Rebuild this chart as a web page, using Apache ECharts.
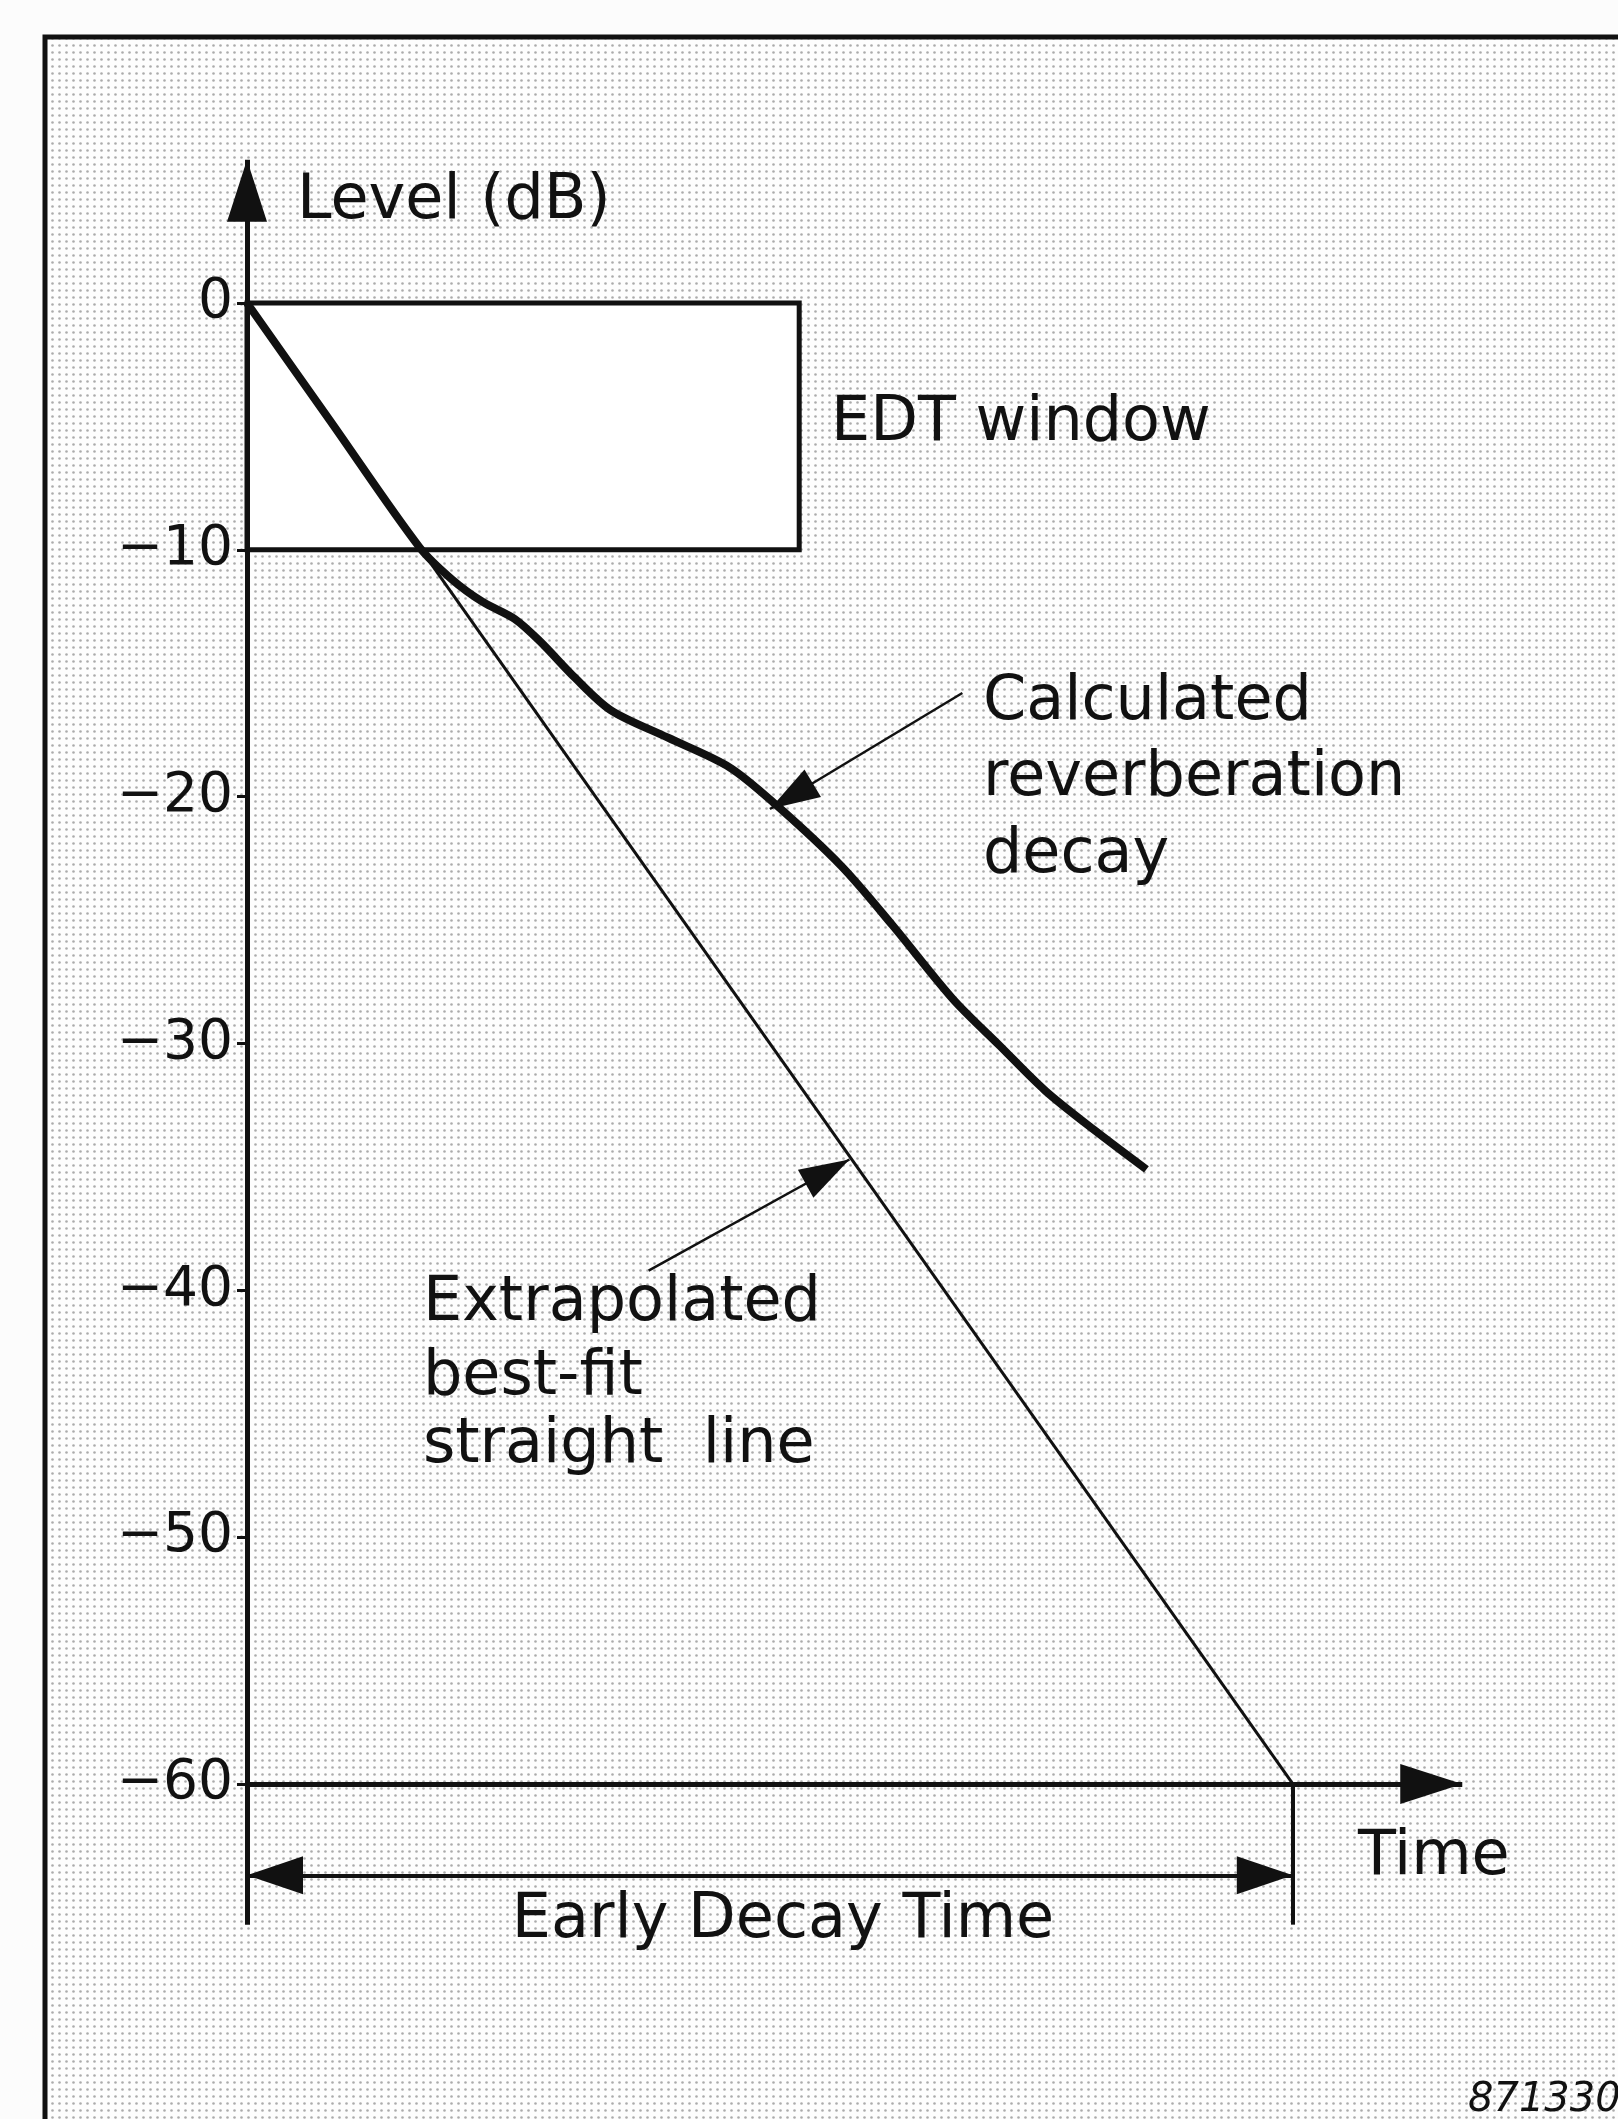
<!DOCTYPE html>
<html><head><meta charset="utf-8">
<style>html,body{margin:0;padding:0;background:#fcfcfc}#c{width:1618px;height:2119px}</style>
<script src="https://cdn.jsdelivr.net/npm/echarts@6/dist/echarts.min.js"></script>
</head><body><div id="c"></div>
<script>
// ---- data (time in arbitrary units, EDT = 100; level in dB) ----
const levelTicks = [0, -10, -20, -30, -40, -50, -60];
const straightTime = [0, 100];
const straightLevel = [0, -60];
const decayTime  = [0, 8, 16.5, 19.6, 22.5, 25.6, 28, 31.4, 34.8, 40.2, 46.1, 50.5, 56.8, 61.7, 67.5, 72, 76.3, 81, 86];
const decayLevel = [0, -4.8, -9.9, -11.2, -12.1, -12.8, -13.7, -15.2, -16.5, -17.6, -18.8, -20.3, -22.8, -25.2, -28.2, -30.1, -31.9, -33.5, -35.1];
const edtWindowTime = [0, 52.8];
const edtWindowLevel = [0, -10];
const levelAxisTop = 5.8, levelAxisBottom = -65.7;
const timeAxisEnd = 116.2;
const edtTime = 100;
const edtArrowLevel = -63.7;
const calcPointerTime = [68.4, 50.0], calcPointerLevel = [-15.8, -20.5];
const fitPointerTime = [38.4, 57.6], fitPointerLevel = [-39.2, -34.7];

const FONT = '"DejaVu Sans", sans-serif';
const INK = '#111';

// halftone-like background pattern
const pc = document.createElement('canvas');
pc.width = 7; pc.height = 7;
const pctx = pc.getContext('2d');
pctx.fillStyle = '#fdfdfd'; pctx.fillRect(0, 0, 7, 7);
pctx.fillStyle = '#ababab'; pctx.beginPath(); pctx.arc(3.5, 3.5, 1.3, 0, Math.PI * 2); pctx.fill();

const chart = echarts.init(document.getElementById('c'), null, {renderer: 'canvas'});

const tri = (w, h) => ({symbol: 'triangle', symbolSize: [w, h], symbolOffset: [0, h / 2]});

function txt(t, x, y, opts) {
  return {
    type: 'text', z: 50, silent: true,
    style: Object.assign({text: t, x: x, y: y, fill: INK, font: '62px ' + FONT, textAlign: 'left', textVerticalAlign: 'middle'}, opts || {})
  };
}

const option = {
  animation: false,
  backgroundColor: '#fcfcfc',
  grid: {left: 247, right: 116, top: 56.2, bottom: 88.2, containLabel: false},
  xAxis: {type: 'value', min: 0, max: 120, show: false},
  yAxis: {
    type: 'value', min: -70, max: 10, interval: 10,
    axisLine: {show: false}, splitLine: {show: false},
    axisTick: {show: true, length: 10, lineStyle: {color: INK, width: 3}, customValues: levelTicks},
    axisLabel: {
      customValues: levelTicks, margin: 14, color: INK, fontFamily: FONT, fontSize: 55,
      formatter: v => (levelTicks.indexOf(v) < 0 ? '' : (v < 0 ? '\u2212' + Math.abs(v) : String(v)))
    }
  },
  graphic: [
    {type: 'rect', z: -100, silent: true, shape: {x: 45, y: 37, width: 1573, height: 2082},
     style: {fill: {image: pc, repeat: 'repeat'}}},
    {type: 'polyline', z: 40, silent: true, shape: {points: [[45, 2119], [45, 37], [1618, 37]]},
     style: {stroke: INK, lineWidth: 5, fill: null}},
    txt('Level (dB)', 297, 202),
    txt('EDT window', 831, 424),
    txt('Calculated', 983, 703),
    txt('reverberation', 983, 779),
    txt('decay', 983, 856),
    txt('Extrapolated', 423, 1304),
    txt('best-fit', 423, 1378),
    txt('straight  line', 423, 1446),
    txt('Time', 1358, 1858),
    txt('Early Decay Time', 783, 1921, {textAlign: 'center'}),
    txt('871330', 1468, 2101, {font: 'italic 40px ' + FONT})
  ],
  series: [
    {
      type: 'line', name: 'EDT window', data: [], z: 1, silent: true,
      markArea: {
        silent: true, label: {show: false},
        itemStyle: {color: '#ffffff', borderColor: INK, borderWidth: 5},
        data: [[{coord: [edtWindowTime[0], edtWindowLevel[0]]}, {coord: [edtWindowTime[1], edtWindowLevel[1]]}]]
      }
    },
    {
      type: 'line', name: 'Extrapolated best-fit straight line', z: 3, silent: true, clip: false,
      showSymbol: false, symbol: 'none',
      lineStyle: {color: INK, width: 3},
      data: straightTime.map((t, i) => [t, straightLevel[i]])
    },
    {
      type: 'line', name: 'Calculated reverberation decay', z: 4, silent: true, clip: false,
      showSymbol: false, symbol: 'none', smooth: 0.3,
      lineStyle: {color: INK, width: 8, cap: 'butt'},
      data: decayTime.map((t, i) => [t, decayLevel[i]])
    },
    {
      type: 'line', name: 'axes', data: [], z: 5, silent: true, clip: false,
      markLine: {
        silent: true, animation: false, symbol: ['none', 'none'],
        label: {show: false}, emphasis: {disabled: true},
        lineStyle: {color: INK, width: 5, type: 'solid'},
        data: [
          [{coord: [0, levelAxisBottom], symbol: 'none'}, Object.assign({coord: [0, levelAxisTop]}, tri(40, 62))],
          [{coord: [0, -60], symbol: 'none'}, Object.assign({coord: [timeAxisEnd, -60]}, tri(40, 62))],
          [{coord: [edtTime, -60], symbol: 'none', lineStyle: {width: 4}}, {coord: [edtTime, levelAxisBottom], symbol: 'none'}],
          [Object.assign({coord: [0, edtArrowLevel], lineStyle: {width: 4}}, tri(38, 56)), Object.assign({coord: [edtTime, edtArrowLevel]}, tri(38, 56))],
          [{coord: [calcPointerTime[0], calcPointerLevel[0]], symbol: 'none', lineStyle: {width: 2.5}},
           Object.assign({coord: [calcPointerTime[1], calcPointerLevel[1]]}, tri(32, 50))],
          [{coord: [fitPointerTime[0], fitPointerLevel[0]], symbol: 'none', lineStyle: {width: 2.5}},
           Object.assign({coord: [fitPointerTime[1], fitPointerLevel[1]]}, tri(32, 50))]
        ]
      }
    }
  ]
};
chart.setOption(option);
</script>
</body></html>
